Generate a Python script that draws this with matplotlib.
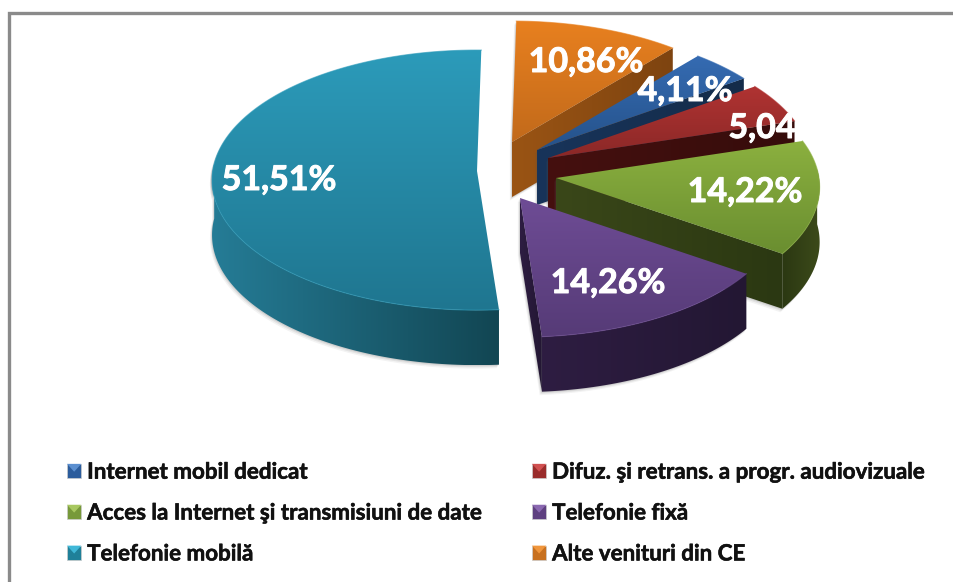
import numpy as np
import matplotlib
matplotlib.use("Agg")
import matplotlib.pyplot as plt
import matplotlib.patheffects as pe
from matplotlib.colors import LinearSegmentedColormap
from matplotlib.patches import Polygon, Rectangle
from matplotlib.legend_handler import HandlerBase

# ---- data ----
categories = ["Alte venituri din CE", "Internet mobil dedicat",
              "Difuz. şi retrans. a progr. audiovizuale",
              "Acces la Internet şi transmisiuni de date",
              "Telefonie fixă", "Telefonie mobilă"]
values = [10.86, 4.11, 5.04, 14.22, 14.26, 51.51]
value_labels = ["10,86%", "4,11%", "5,04", "14,22%", "14,26%", "51,51%"]
legend_order = [1, 3, 5, 2, 4, 0]

# ---- styles / geometry ----
W, H = 954, 582
START_ANGLE = 1.0
RX, RY, PERSP, DEPTH = 263.0, 129.4, 0.07, 55.0
apex = [(512, 142), (537, 150), (548, 158), (556, 178), (520, 198), (477, 171)]
rx_scale = [1, 1, 1, 1, 1, 1.005]
top_cols = [("#E8801F", "#C26A1B"), ("#356BB2", "#25528A"), ("#B03332", "#8B2827"),
            ("#8BB03F", "#6A8E30"), ("#6E4C95", "#563B77"), ("#2C9BBA", "#1F7690")]
face_cols = [("#9A5414", "#7E4410"), ("#18345A", "#142C4A"), ("#45100F", "#360C0B"),
             ("#3A4719", "#2B3812"), ("#2E1D42", "#231733"), ("#247A94", "#124653")]
arc_cols = [("#9A5414", "#7E4410"), ("#18345A", "#142C4A"), ("#45100F", "#360C0B"),
            ("#2B3812", "#3C4A1A"), ("#2E1D42", "#231733"), ("#257C96", "#124653")]
legend_cols = [("#F0963C", "#C8701E"), ("#5B8FD0", "#2B5C9C"), ("#D05050", "#9A2C2B"),
               ("#A8C860", "#77993A"), ("#8A68B0", "#5E4080"), ("#40B8D8", "#1F8099")]
label_pos = [(586, 62), (685, 91), (762, 128), (745, 192), (608, 283), (279, 180)]

plt.rcParams["font.family"] = ["Lato", "DejaVu Sans"]
fig = plt.figure(figsize=(W / 100, H / 100), dpi=100)
ax = fig.add_axes([0, 0, 1, 1])
ax.set_xlim(0, W)
ax.set_ylim(H, 0)
ax.axis("off")


def project(a_deg, i):
    """Clockwise-from-top angle to screen offset, with slight perspective."""
    a = np.radians(a_deg)
    u, v = np.sin(a), np.cos(a)
    d = 1 + PERSP * v
    return RX * rx_scale[i] * u / d, -RY * v / d


def grad_fill(poly, cols, horizontal, z):
    poly = np.asarray(poly)
    cmap = LinearSegmentedColormap.from_list("g", cols)
    g = np.linspace(0, 1, 128)
    g = g.reshape(1, -1) if horizontal else g.reshape(-1, 1)
    x0, x1, y0, y1 = poly[:, 0].min(), poly[:, 0].max(), poly[:, 1].min(), poly[:, 1].max()
    im = ax.imshow(g, cmap=cmap, extent=(x0, x1, y1, y0), aspect="auto",
                   zorder=z, interpolation="bilinear")
    clip = Polygon(poly, closed=True, transform=ax.transData, fc="none", ec="none")
    ax.add_patch(clip)
    im.set_clip_path(clip)


def face_visible(edge, mid):
    n = np.array([edge[1], -edge[0]], dtype=float)
    if n @ mid > 0:
        n = -n
    return n[1] / np.hypot(*n) > 0.1


cum = START_ANGLE
z = 2
for i, val in enumerate(values):
    a0, a1 = cum, cum + val * 3.6
    cum = a1
    cx, cy = apex[i]
    angs = np.linspace(a0, a1, 240)
    pts = np.array([project(a, i) for a in angs]) + [cx, cy]
    top = np.vstack([[cx, cy], pts])
    down = np.array([0, DEPTH])
    mid = pts[len(pts) // 2] - [cx, cy]
    front = pts[np.cos(np.radians(angs)) <= 0.07]   # only the near part of the rim shows a wall
    shapes = [top]
    sil = None
    if len(front) > 1:
        sil = np.vstack([front, (front + down)[::-1]])
        shapes.append(sil)
    faces = []
    for p in (pts[0], pts[-1]):
        if face_visible(p - [cx, cy], mid):
            faces.append(np.array([[cx, cy], p, p + down, [cx, cy + DEPTH]]))
    # soft shadow just outside the solid
    for off, al in ((3.5, .07), (2.2, .10), (1.0, .14)):
        for shape in shapes + faces:
            ax.add_patch(Polygon(shape + [-off * .6, off], closed=True, fc="#555555",
                                 ec="none", alpha=al, zorder=z))
    z += 1
    for f in faces:
        grad_fill(f, face_cols[i], True, z)
        z += 1
    if sil is not None:
        grad_fill(sil, arc_cols[i], True, z)
        z += 1
    grad_fill(top, top_cols[i], False, z)
    z += 1
    ax.plot(pts[:, 0], pts[:, 1], color=top_cols[i][0], lw=.8, alpha=.6, zorder=z)
    z += 1

for i, lab in enumerate(value_labels):
    ax.text(*label_pos[i], lab, color="white", fontsize=24.5, fontweight="bold",
            ha="center", va="center", zorder=100,
            path_effects=[pe.withStroke(linewidth=0.7, foreground="white")])

# frame
ax.plot([9.5, 9.5, W], [H, 13, 13], color="#8a8a8a", lw=2.4, solid_joinstyle="miter", zorder=1)


class Marker:
    def __init__(self, idx):
        self.idx = idx


class MarkerHandler(HandlerBase):
    def create_artists(self, legend, orig, xd, yd, w, h, fontsize, trans):
        hi, lo = legend_cols[orig.idx]
        s = 10.3
        x0, y0 = -xd, -yd + (h - s) / 2
        r = Rectangle((x0, y0), s, s, fc=lo, ec="#cccccc", lw=.5, transform=trans)
        t = Polygon([(x0, y0 + s), (x0 + s, y0 + s), (x0 + s / 2, y0 + s * .45)],
                    closed=True, fc=hi, ec="none", transform=trans)
        return [r, t]


handles = [Marker(i) for i in legend_order]
labels = [categories[i] for i in legend_order]
leg = fig.legend(handles, labels, handler_map={Marker: MarkerHandler()}, ncols=2,
                 loc="upper left", bbox_to_anchor=(67.0 / W, 1 - 461.0 / H),
                 bbox_transform=fig.transFigure, frameon=False,
                 prop={"size": 16.1, "weight": "bold"},
                 handlelength=0.64, handleheight=1.0, handletextpad=0.26,
                 labelspacing=0.86, borderpad=0, borderaxespad=0, columnspacing=2.2,
                 labelcolor="#111111")
for t in leg.get_texts():
    t.set_path_effects([pe.withStroke(linewidth=0.4, foreground="#111111")])

fig.savefig("out.png", dpi=100)
